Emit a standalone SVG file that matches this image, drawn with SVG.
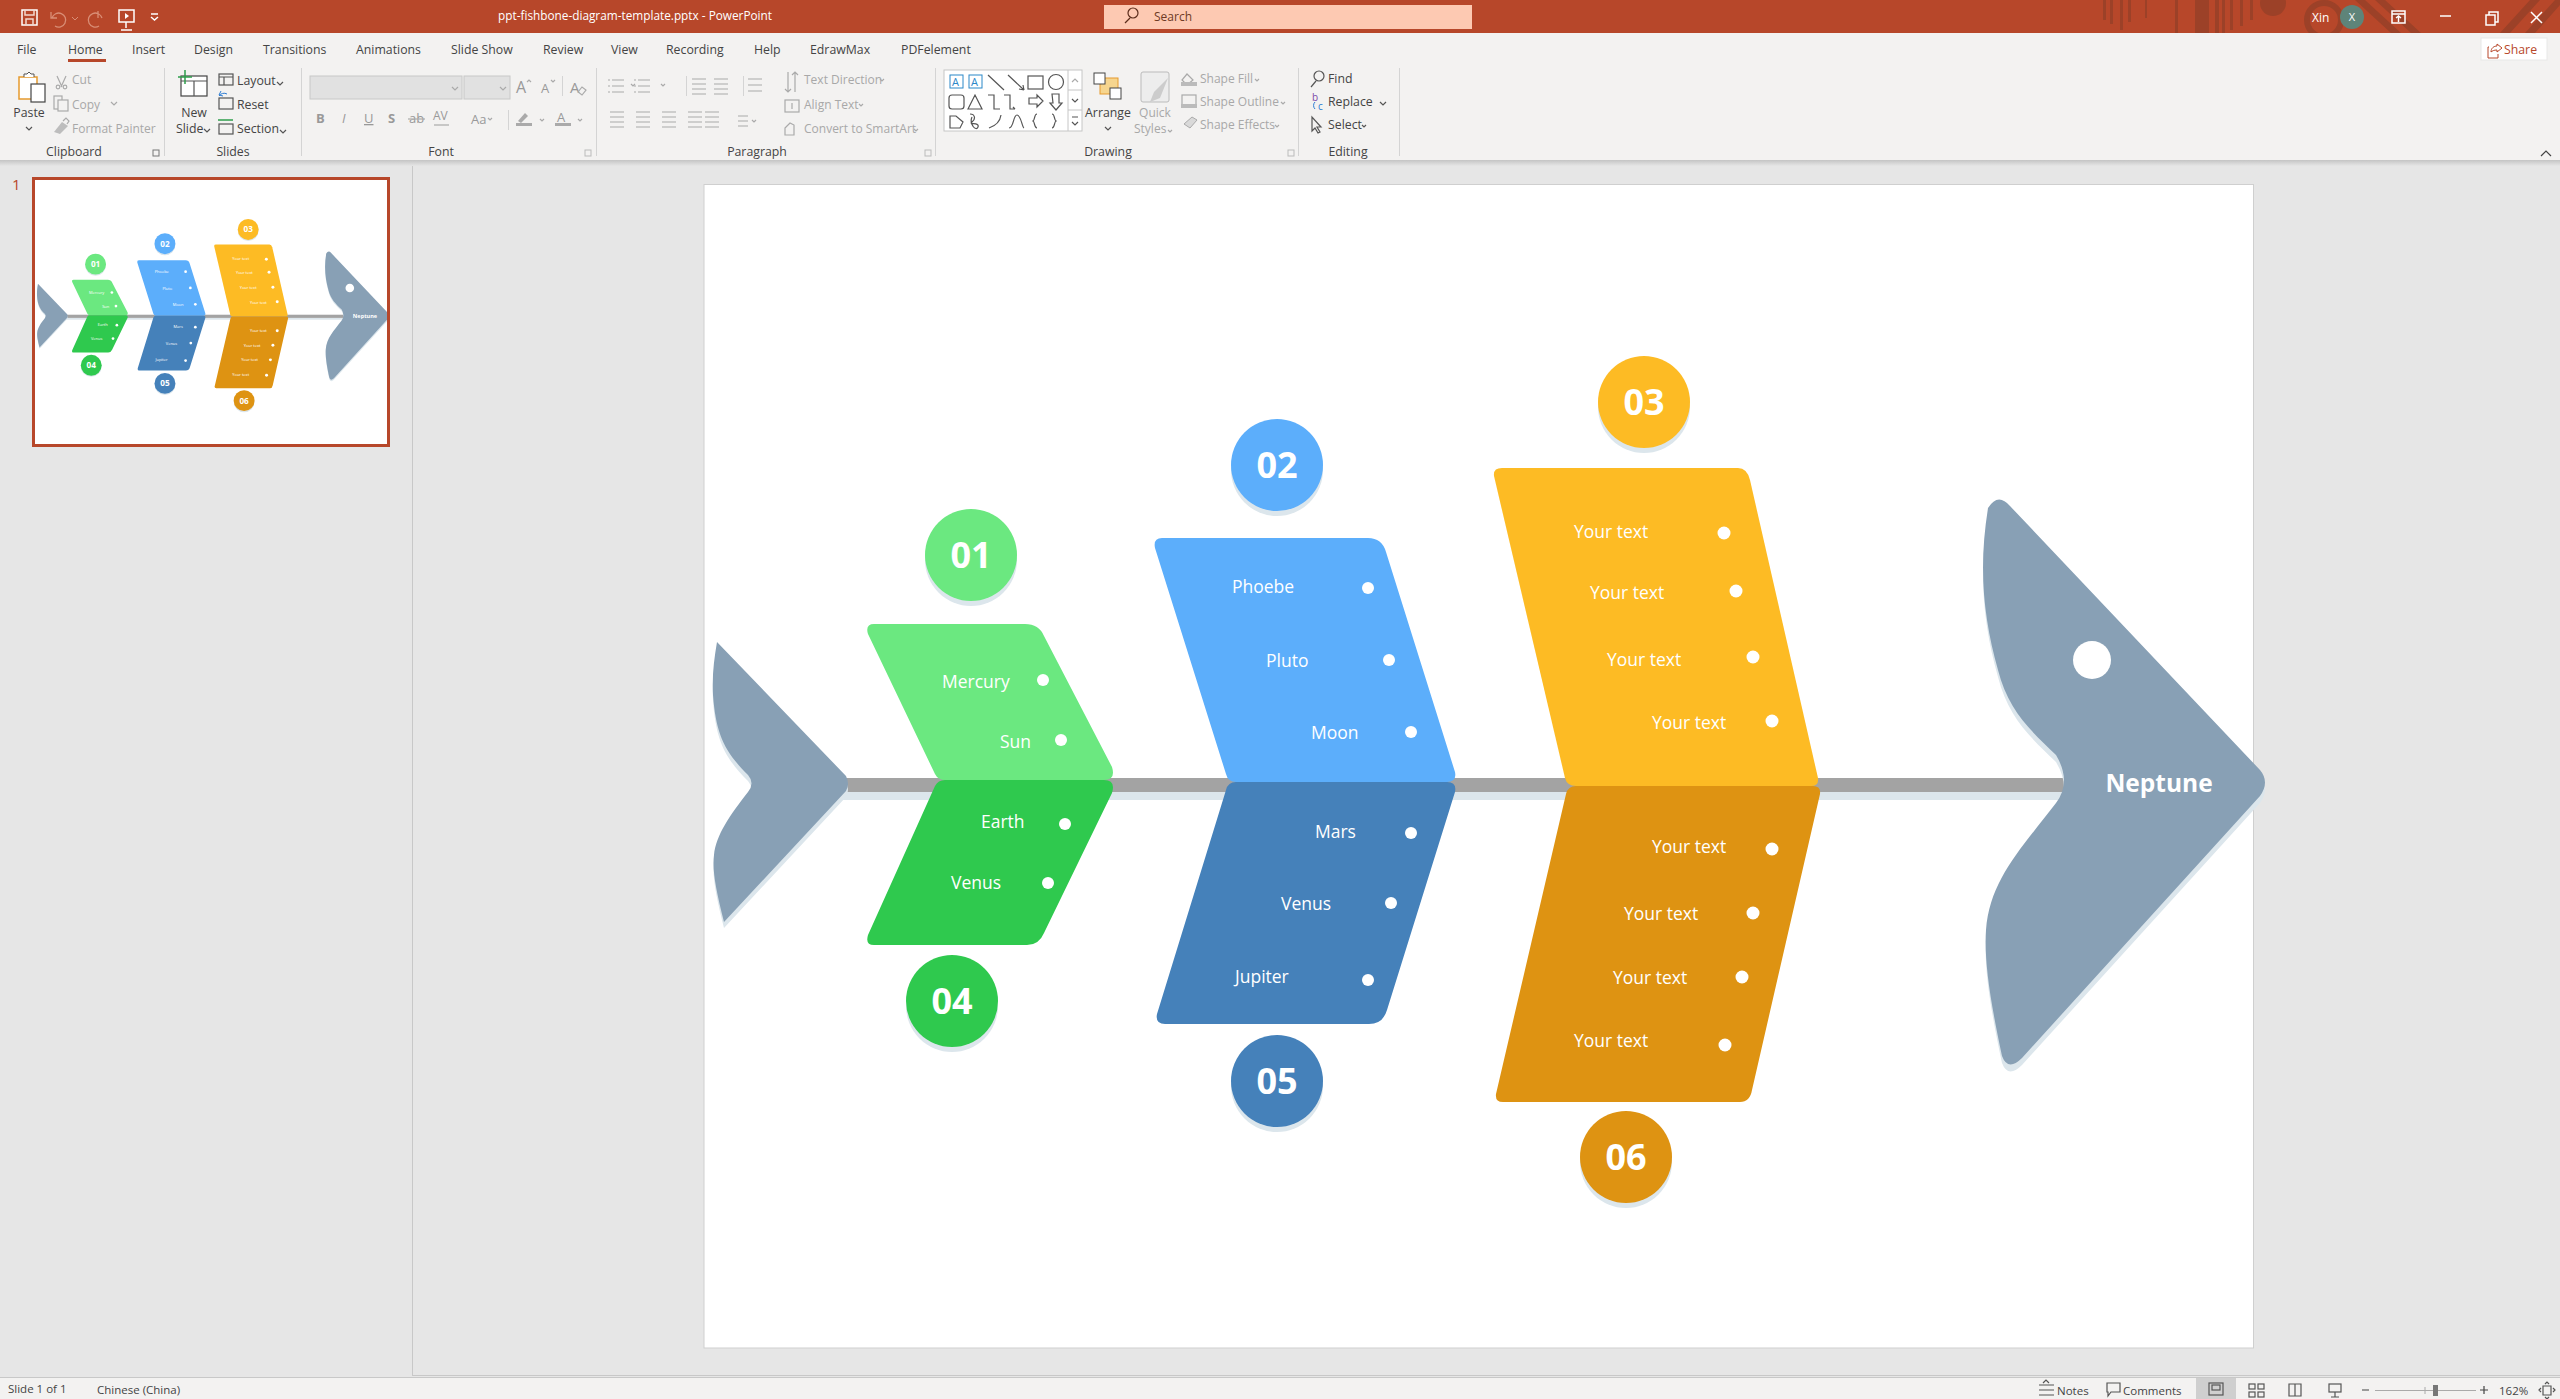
<svg xmlns="http://www.w3.org/2000/svg" xmlns:xlink="http://www.w3.org/1999/xlink" width="2560" height="1399" viewBox="0 0 2560 1399">
<style>
text{font-family:"Open Sans","Noto Sans","Liberation Sans",sans-serif}
.t{font-size:17.500px;fill:#fff}
.n{font-size:36px;font-weight:700;fill:#fff;text-anchor:middle}
.d{fill:#fff}
.sh{fill:#DCE6EC}
.ui{font-size:12.300px;fill:#444}
.s{font-size:11.500px;fill:#444}
.g{font-size:12px;fill:#a8a8a8}
.c{text-anchor:middle}
.ic{fill:none;stroke:#555;stroke-width:1.2}
.ig{fill:none;stroke:#aaa;stroke-width:1.2}
.iw{fill:none;stroke:#fff;stroke-width:1.5}
.sep{stroke:#d4d4d4;stroke-width:1}
</style>
<defs>
<linearGradient id="rs" x1="0" y1="0" x2="0" y2="1"><stop offset="0" stop-color="#c4c4c4"/><stop offset="1" stop-color="#e6e6e6"/></linearGradient>
<path id="tailP" d="M717 642L846 776Q850 784 846 791L724 922C716 890 712 870 714 855C716 835 730 815 748 792Q755 783 748 775C725 752 716 735 713 695C712 675 714 660 717 642Z"/>
<path id="headP" d="M1988 508Q1998 492 2010 506L2260 770Q2270 782 2260 796L2022 1058Q2008 1072 2002 1056C1990 1000 1984 960 1986 930C1990 880 2020 850 2056 803Q2072 782 2056 755C2030 730 2008 710 1998 670C1984 620 1978 570 1988 508Z"/>
<clipPath id="th"><rect x="35" y="180" width="352" height="264"/></clipPath>
</defs>

<rect width="2560" height="1399" fill="#E6E6E6"/>

<g id="title-bar">
<rect width="2560" height="33" fill="#B7472A"/>
<g fill="#9C4128">
<rect x="2103" y="0" width="3" height="20"/><rect x="2110" y="0" width="3" height="24"/><rect x="2120" y="0" width="3" height="30"/><rect x="2128" y="0" width="3" height="22"/><rect x="2145" y="0" width="2" height="18"/>
<rect x="2175" y="0" width="3" height="33"/><rect x="2195" y="0" width="14" height="33"/><rect x="2215" y="0" width="4" height="33"/><rect x="2222" y="0" width="3" height="33"/><rect x="2230" y="0" width="3" height="30"/><rect x="2240" y="0" width="3" height="26"/><rect x="2250" y="0" width="3" height="20"/>
<circle cx="2273" cy="3" r="13"/>
<path d="M2355 0l36 33h10l-36-33zM2375 0l36 33h10l-36-33zM2500 33l30-33h10l-30 33zM2525 33l30-33h5v5l-25 28z"/>
</g>
<circle cx="2324" cy="20" r="17" fill="none" stroke="#9C4128" stroke-width="6"/>
<rect x="22" y="10" width="15" height="15" class="iw" stroke="#fff"/><path class="iw" d="M25 10v5h9v-5M26 25v-6h7v6" style="stroke:#f3d8cd"/>
<path d="M52 18a7 7 0 1 1 3 8M51 12v6h6" fill="none" stroke="#d98e76" stroke-width="1.3"/>
<path d="M72 17l3 3 3-3" fill="none" stroke="#d98e76"/>
<path d="M102 18a7 7 0 1 0-3 8M98 11v7" fill="none" stroke="#d98e76" stroke-width="1.3"/>
<rect x="119" y="10" width="15" height="12" class="iw"/><path class="iw" d="M126 22v6M121 30h11"/><path d="M125 13l4 3-4 3z" fill="#fff"/>
<path class="iw" d="M151 14h7M151 17l3.500 3 3.500-3"/>
<text x="498" y="20" font-size="11.800" fill="#fff">ppt-fishbone-diagram-template.pptx  -  PowerPoint</text>
<rect x="1104" y="5" width="368" height="24" fill="#FDC9B2"/>
<circle cx="1133" cy="13" r="5" fill="none" stroke="#5c2d1c" stroke-width="1.2"/><path d="M1130 18l-5 5" stroke="#5c2d1c" stroke-width="1.2"/>
<text x="1154" y="21" font-size="12" fill="#6e3a25">Search</text>
<text x="2312" y="22" font-size="12" fill="#fff">Xin</text>
<circle cx="2352" cy="17" r="12" fill="#5E8479"/><text x="2352" y="21" font-size="11" fill="#fff" class="c">X</text>
<rect x="2392" y="11" width="13" height="12" class="iw"/><path class="iw" d="M2392 14h13M2398.500 22v-6M2396 18l2.500-2 2.500 2"/>
<path d="M2440 16h11" class="iw"/>
<rect x="2486" y="15" width="9" height="10" class="iw"/><path d="M2489 15v-3h9v10h-3" class="iw"/>
<path d="M2531 12l11 11M2542 12l-11 11" class="iw"/>
</g>

<g id="ribbon">
<rect y="33" width="2560" height="127" fill="#F3F2F1"/>
<rect y="160" width="2560" height="6" fill="url(#rs)"/>
<g class="ui">
<text class="ui" x="17" y="54">File</text><text class="ui" x="68" y="54">Home</text><text class="ui" x="132" y="54">Insert</text><text class="ui" x="194" y="54">Design</text><text class="ui" x="263" y="54">Transitions</text><text class="ui" x="356" y="54">Animations</text><text class="ui" x="451" y="54">Slide Show</text><text class="ui" x="543" y="54">Review</text><text class="ui" x="611" y="54">View</text><text class="ui" x="666" y="54">Recording</text><text class="ui" x="754" y="54">Help</text><text class="ui" x="810" y="54">EdrawMax</text><text class="ui" x="901" y="54">PDFelement</text>
</g>
<rect x="68" y="59" width="38" height="3" fill="#B7472A"/>
<rect x="2481" y="38" width="66" height="22" fill="#fff" stroke="#e8e8e8"/>
<path d="M2489 47h-1v11h10v-4M2491 52c0-4 3-6 6-6v-2l5 4-5 4v-2c-3 0-5 1-6 2z" fill="none" stroke="#B7472A"/>
<text x="2504" y="54" font-size="12.300" fill="#B7472A">Share</text>
<path d="M2541 156l5-5 5 5" fill="none" stroke="#444" stroke-width="1.200"/>
<g class="sep"><path d="M164.500 68v88M301.500 68v88M596.500 68v88M935.500 68v88M1298.500 68v88M1399.500 68v88"/></g>

<g id="clipboard-group">
<rect x="19" y="77" width="18" height="22" fill="#fff" stroke="#E69A2E" stroke-width="1.500"/><rect x="31" y="84" width="14" height="18" fill="#fff" stroke="#444" stroke-width="1.200"/><path d="M24 77v-3h3l2-2 2 2h3v3" fill="#fff" stroke="#555"/>
<text x="29" y="117" class="ui c">Paste</text><path d="M26 127l3 3 3-3" class="ic"/>
<path d="M57 76l5 11M66 76l-5 11" class="ig"/><circle cx="58" cy="87" r="1.800" class="ig"/><circle cx="65" cy="87" r="1.800" class="ig"/>
<text x="72" y="84" class="g">Cut</text>
<rect x="54" y="96" width="8" height="13" class="ig"/><rect x="58" y="100" width="10" height="11" class="ig" style="fill:#F3F2F1"/>
<text x="72" y="109" class="g">Copy</text><path d="M111 102l3 3 3-3" class="ig"/>
<path d="M54 132l8-10 6 4-8 8z" fill="#bdbdbd"/><path d="M63 121l3-3 3 3-2 3" class="ig"/>
<text x="72" y="133" class="g">Format Painter</text>
<text x="74" y="156" class="ui c">Clipboard</text>
<rect x="153" y="150" width="6" height="6" fill="none" stroke="#777"/>
</g>

<g id="slides-group">
<rect x="181" y="76" width="26" height="20" fill="#fff" stroke="#444" stroke-width="1.200"/><path d="M181 81h26M194 81v15" class="ic"/><path d="M178 77h14M185 70v14" stroke="#2E9E4B" stroke-width="1.500"/>
<text x="194" y="117" class="ui c">New</text><text x="176" y="133" class="ui">Slide</text><path d="M204 129l3 3 3-3" class="ic"/>
<rect x="219" y="74" width="14" height="11" class="ic"/><path d="M219 77h14M224 77v8" class="ic"/>
<text x="237" y="85" class="ui">Layout</text><path d="M277 82l3 3 3-3" class="ic"/>
<rect x="219" y="98" width="14" height="11" class="ic"/><path d="M219 96a6 6 0 0 1 8-2M221 91l-2 4 4 1" fill="none" stroke="#2B7CD3"/>
<text x="237" y="109" class="ui">Reset</text>
<rect x="219" y="124" width="14" height="10" class="ic"/><path d="M218 120h15" stroke="#2E9E4B" stroke-width="1.500"/>
<text x="237" y="133" class="ui">Section</text><path d="M280 130l3 3 3-3" class="ic"/>
<text x="233" y="156" class="ui c">Slides</text>
</g>

<g id="font-group">
<rect x="310" y="76" width="152" height="23" fill="#E1E1E1" stroke="#C8C8C8"/><rect x="464" y="76" width="46" height="23" fill="#E1E1E1" stroke="#C8C8C8"/>
<path d="M452 87l3 3 3-3M500 87l3 3 3-3" class="ig"/>
<text x="516" y="93" font-size="16" fill="#999">A</text><text x="541" y="93" font-size="13" fill="#999">A</text><path d="M527 82l2-2 2 2M551 80l2 2 2-2" class="ig"/>
<path class="sep" d="M562.500 76v20"/>
<text x="570" y="93" font-size="15" fill="#999">A</text><path d="M578 92l4-5 4 3-4 5z" class="ig"/>
<text x="316" y="123" font-size="13" font-weight="700" fill="#999">B</text>
<text x="342" y="123" font-size="13" font-style="italic" fill="#999">I</text>
<text x="364" y="123" font-size="13" fill="#999" text-decoration="underline">U</text>
<text x="388" y="123" font-size="13" font-weight="700" fill="#999">S</text>
<text x="409" y="123" font-size="13" fill="#999">ab</text><path d="M408 119h17" class="ig"/>
<text x="433" y="120" font-size="12" fill="#999">AV</text><path d="M434 125h15" class="ig"/>
<text x="471" y="124" font-size="13" fill="#999">Aa</text><path d="M488 118l2 2 2-2" class="ig"/>
<path d="M518 121l7-8 3 3-7 7z" fill="#aaa"/><rect x="516" y="123" width="16" height="3" fill="#aaa"/>
<text x="557" y="122" font-size="13" fill="#999">A</text><rect x="555" y="123" width="16" height="3" fill="#aaa"/>
<path d="M540 119l2 2 2-2M578 119l2 2 2-2" class="ig"/>
<path class="sep" d="M508.500 110v20"/>
<text x="441" y="156" class="ui c">Font</text>
<rect x="585" y="150" width="6" height="6" fill="none" stroke="#bbb"/>
</g>

<g id="paragraph-group" class="ig">
<path d="M612 80h12M612 86h12M612 92h12M638 80h12M638 86h12M638 92h12M631 84l2 2 2-2M661 84l2 2 2-2"/>
<path d="M608 80h2M608 86h2M608 92h2M634 80h2M634 86h2M634 92h2"/>
<path d="M692 79h14M692 84h14M692 89h14M692 94h14M714 79h14M714 84h14M714 89h14M714 94h14M748 79h14M748 85h14M748 91h14"/>
<path class="sep" d="M686.500 76v20M743.500 76v20"/>
<path d="M610 112h14M610 117h14M610 122h14M610 127h14M636 112h14M636 117h14M636 122h14M636 127h14M662 112h14M662 117h14M662 122h14M662 127h14M688 112h14M688 117h14M688 122h14M688 127h14M705 112h14M705 117h14M705 122h14M705 127h14"/>
<path d="M738 116h10M738 121h10M738 126h10M752 120l2 2 2-2"/>
<path d="M788 72v20M785 89l3 3 3-3M795 72v20M792 75l3-3 3 3"/>
<rect x="785" y="100" width="14" height="12"/><path d="M792 103v6"/>
<path d="M785 128l5-5 4 2v10h-9z"/>
</g>
<text x="804" y="84" class="g">Text Direction</text><text x="804" y="109" class="g">Align Text</text><text x="804" y="133" class="g">Convert to SmartArt</text>
<path d="M880 79l2 2 2-2M859 104l2 2 2-2M914 129l2 2 2-2" class="ig"/>
<text x="757" y="156" class="ui c">Paragraph</text>
<rect x="925" y="150" width="6" height="6" fill="none" stroke="#bbb"/>

<g id="drawing-group">
<rect x="944" y="70" width="138" height="61" fill="#fff" stroke="#C6C6C6"/>
<path d="M1068 70v61M1068 90h14M1068 110h14" stroke="#C6C6C6"/>
<path d="M1072 82l3-3 3 3" class="ig"/><path d="M1072 99l3 3 3-3" class="ic"/><path d="M1072 122l3 3 3-3M1072 117h6" class="ic"/>
<rect x="950" y="75" width="13" height="13" fill="none" stroke="#2B88C8"/><text x="952" y="86" font-size="11" fill="#2B88C8">A</text>
<rect x="969" y="75" width="13" height="13" fill="none" stroke="#2B88C8"/><text x="971" y="86" font-size="11" fill="#2B88C8">A</text>
<g class="ic">
<path d="M988 75l16 15M1008 75l16 15M1024 90l-5-1M1024 90l-1-5"/><rect x="1028" y="76" width="15" height="13"/><circle cx="1056" cy="82" r="7.500"/>
<rect x="949" y="95" width="15" height="14" rx="3"/><path d="M968 109l7-14 7 14zM988 95h6v14h6M1004 95h6v14h5M1015 109l-2-2M1029 98h8v-3l6 6-6 6v-3h-8zM1052 94h7v9h3l-6 7-6-7h3z"/>
<path d="M950 128v-12h6l7 6-3 6zM970 114c5 0 6 5 2 8s8 0 6 5-9-3-6-10M989 128c6-2 11-6 12-13M1009 128c5 0 4-13 8-13s5 12 7 13M1037 114c-3 0-2 6-4 7 2 1 1 7 4 7M1052 114c3 0 2 6 4 7-2 1-1 7-4 7"/>
</g>
<rect x="1100" y="78" width="18" height="16" fill="#F6D58E" stroke="#E69A2E"/><rect x="1094" y="73" width="11" height="11" fill="#fff" stroke="#444"/><rect x="1110" y="88" width="11" height="11" fill="#fff" stroke="#444"/>
<text x="1108" y="117" class="ui c">Arrange</text><path d="M1105 127l3 3 3-3" class="ic"/>
<rect x="1141" y="72" width="28" height="30" rx="2" fill="#EDEDED" stroke="#bbb"/><path d="M1150 102l4-10 14-14-8 20z" fill="#ccc"/>
<text x="1155" y="117" class="g c">Quick</text><text x="1134" y="133" class="g">Styles</text><path d="M1168 130l2 2 2-2" class="ig"/>
<path d="M1187 74l-5 6 5 5 6-5z" class="ig"/><rect x="1181" y="82" width="16" height="4" fill="#bbb"/>
<text x="1200" y="83" class="g">Shape Fill</text><path d="M1255 79l2 2 2-2" class="ig"/>
<rect x="1182" y="95" width="14" height="10" class="ig"/><rect x="1181" y="104" width="16" height="4" fill="#bbb"/>
<text x="1200" y="106" class="g">Shape Outline</text><path d="M1281 102l2 2 2-2" class="ig"/>
<path d="M1184 124l8-7 5 3-7 8z" fill="#d9d9d9" stroke="#aaa"/>
<text x="1200" y="129" class="g">Shape Effects</text><path d="M1275 125l2 2 2-2" class="ig"/>
<text x="1108" y="156" class="ui c">Drawing</text>
<rect x="1288" y="150" width="6" height="6" fill="none" stroke="#bbb"/>
</g>

<g id="editing-group">
<circle cx="1319" cy="76" r="5" class="ic"/><path d="M1316 81l-5 6" class="ic"/><text x="1328" y="83" class="ui">Find</text>
<text x="1312" y="101" font-size="10" fill="#7B4AA8">b</text><text x="1318" y="110" font-size="10" fill="#2B7CD3">c</text><path d="M1315 102a5 5 0 0 0 0 7" fill="none" stroke="#2B7CD3"/>
<text x="1328" y="106" class="ui">Replace</text><path d="M1380 102l3 3 3-3" class="ic"/>
<path d="M1312 117v14l3-3 3 5 2-1-3-5h4z" class="ic"/>
<text x="1328" y="129" class="ui">Select</text><path d="M1362 125l2 2 2-2" class="ic"/>
<text x="1348" y="156" class="ui c">Editing</text>
</g>
</g>

<g id="thumbnail-pane">
<path d="M412.500 166V1375" stroke="#C8C8C8"/>
<text x="12" y="190" font-size="15" fill="#B7472A">1</text>
<rect x="33.500" y="178.500" width="355" height="267" fill="#fff" stroke="#B7472A" stroke-width="3"/>
<g clip-path="url(#th)"><use href="#fish" xlink:href="#fish" transform="translate(35 180) scale(.2268) translate(-704 -184)"/></g>
</g>

<rect id="slide" x="704" y="184.500" width="1549.500" height="1163.500" fill="#fff" stroke="#CFCFCF"/>

<g id="fish">
<g id="connectors">
<rect x="800" y="792" width="1270" height="8" class="sh"/>
<rect id="spine" x="800" y="778" width="1270" height="14" fill="#A3A3A3"/>
</g>
<g id="tail"><use href="#tailP" xlink:href="#tailP" class="sh" y="6"/><use href="#tailP" xlink:href="#tailP" fill="#88A0B5"/></g>
<g id="head"><use href="#headP" xlink:href="#headP" class="sh" y="7"/><use href="#headP" xlink:href="#headP" fill="#88A0B5"/>
<circle class="d" cx="2092" cy="660" r="19"/>
<text x="2159" y="792" font-size="24.500" font-weight="700" fill="#fff" text-anchor="middle">Neptune</text></g>

<g id="bone-01">
<path fill="#6BE880" d="M874 624H1025Q1039 624 1044 636L1112 767Q1116 780 1104 780H945Q938 780 935 774L868 634Q865 624 874 624Z"/>
<circle class="sh" cx="971" cy="560" r="46"/><circle fill="#6BE880" cx="971" cy="555" r="46"/><text class="n" x="971" y="568">01</text>
<text class="t" x="942" y="688">Mercury</text><text class="t" x="1000" y="748">Sun</text>
<circle class="d" cx="1043" cy="680" r="6"/><circle class="d" cx="1061" cy="740" r="6"/>
</g>
<g id="bone-04">
<path fill="#2FC94E" d="M945 780H1104Q1116 780 1112 793L1044 933Q1039 945 1027 945H874Q865 945 868 935L935 786Q938 780 945 780Z"/>
<circle class="sh" cx="952" cy="1006" r="46"/><circle fill="#2FC94E" cx="952" cy="1001" r="46"/><text class="n" x="952" y="1014">04</text>
<text class="t" x="981" y="828">Earth</text><text class="t" x="951" y="889">Venus</text>
<circle class="d" cx="1065" cy="824" r="6"/><circle class="d" cx="1048" cy="883" r="6"/>
</g>
<g id="bone-02">
<path fill="#5CAEFB" d="M1162 538H1368Q1382 538 1386 552L1455 772Q1457 782 1447 782H1236Q1228 782 1226 774L1155 548Q1153 538 1162 538Z"/>
<circle class="sh" cx="1277" cy="470" r="46"/><circle fill="#5CAEFB" cx="1277" cy="465" r="46"/><text class="n" x="1277" y="478">02</text>
<text class="t" x="1232" y="593">Phoebe</text><text class="t" x="1266" y="667">Pluto</text><text class="t" x="1311" y="739">Moon</text>
<circle class="d" cx="1368" cy="588" r="6"/><circle class="d" cx="1389" cy="660" r="6"/><circle class="d" cx="1411" cy="732" r="6"/>
</g>
<g id="bone-05">
<path fill="#4581BA" d="M1236 782H1447Q1457 782 1455 792L1387 1010Q1383 1024 1369 1024H1165Q1155 1024 1157 1014L1226 790Q1228 782 1236 782Z"/>
<circle class="sh" cx="1277" cy="1086" r="46"/><circle fill="#4581BA" cx="1277" cy="1081" r="46"/><text class="n" x="1277" y="1094">05</text>
<text class="t" x="1315" y="838">Mars</text><text class="t" x="1281" y="910">Venus</text><text class="t" x="1235" y="983">Jupiter</text>
<circle class="d" cx="1411" cy="833" r="6"/><circle class="d" cx="1391" cy="903" r="6"/><circle class="d" cx="1368" cy="980" r="6"/>
</g>
<g id="bone-03">
<path fill="#FDBB24" d="M1502 468H1738Q1747 468 1750 480L1818 778Q1819 786 1811 786H1576Q1567 786 1565 778L1494 476Q1493 468 1502 468Z"/>
<circle class="sh" cx="1644" cy="407" r="46"/><circle fill="#FDBB24" cx="1644" cy="402" r="46"/><text class="n" x="1644" y="415">03</text>
<text class="t" x="1574" y="538">Your text</text><text class="t" x="1590" y="599">Your text</text><text class="t" x="1607" y="666">Your text</text><text class="t" x="1652" y="729">Your text</text>
<circle class="d" cx="1724" cy="533" r="6.500"/><circle class="d" cx="1736" cy="591" r="6.500"/><circle class="d" cx="1753" cy="657" r="6.500"/><circle class="d" cx="1772" cy="721" r="6.500"/>
</g>
<g id="bone-06">
<path fill="#DE9312" d="M1576 786H1813Q1821 786 1820 794L1752 1090Q1750 1102 1740 1102H1503Q1495 1102 1496 1094L1566 794Q1568 786 1576 786Z"/>
<circle class="sh" cx="1626" cy="1162" r="46"/><circle fill="#DE9312" cx="1626" cy="1157" r="46"/><text class="n" x="1626" y="1170">06</text>
<text class="t" x="1652" y="853">Your text</text><text class="t" x="1624" y="920">Your text</text><text class="t" x="1613" y="984">Your text</text><text class="t" x="1574" y="1047">Your text</text>
<circle class="d" cx="1772" cy="849" r="6.500"/><circle class="d" cx="1753" cy="913" r="6.500"/><circle class="d" cx="1742" cy="977" r="6.500"/><circle class="d" cx="1725" cy="1045" r="6.500"/>
</g>
</g>

<g id="status-bar">
<path d="M412 1375.500H2560" stroke="#C8C8C8"/>
<rect y="1378" width="2560" height="21" fill="#F3F2F1"/><path d="M0 1377.500H2560" stroke="#C8C8C8"/>
<text x="8" y="1393" class="s">Slide 1 of 1</text>
<text x="97" y="1394" class="s">Chinese (China)</text>
<path d="M2039 1385h15M2039 1390h15M2039 1395h15M2043 1383l3-3 3 3" class="ic"/>
<text x="2057" y="1395" class="s">Notes</text>
<path d="M2107 1383h13v9h-9l-3 4v-4h-1z" class="ic"/>
<text x="2123" y="1395" class="s">Comments</text>
<rect x="2196" y="1378" width="40" height="21" fill="#CFCFCF"/>
<rect x="2209" y="1383" width="14" height="12" class="ic"/><rect x="2212" y="1385" width="8" height="5" class="ic"/>
<g class="ic"><rect x="2249" y="1384" width="6" height="5"/><rect x="2258" y="1384" width="6" height="5"/><rect x="2249" y="1392" width="6" height="5"/><rect x="2258" y="1392" width="6" height="5"/>
<path d="M2289 1384h6v12h-6zM2295 1384h6v12h-6z"/><rect x="2329" y="1384" width="12" height="8"/><path d="M2335 1392v5M2331 1397h8"/></g>
<path d="M2362 1390h7M2480 1390h8M2484 1386v8" stroke="#444" stroke-width="1.200"/>
<path d="M2375 1390.500h101" stroke="#aaa"/><path d="M2425 1387v7" stroke="#aaa"/>
<rect x="2433" y="1385" width="5" height="11" fill="#777"/>
<text x="2499" y="1395" class="s">162%</text>
<path d="M2543 1386h8v9h-8zM2541 1388l-2 2 2 2M2553 1388l2 2-2 2M2545 1384l2-2 2 2M2545 1397l2 2 2-2" class="ic"/>
</g>
</svg>
